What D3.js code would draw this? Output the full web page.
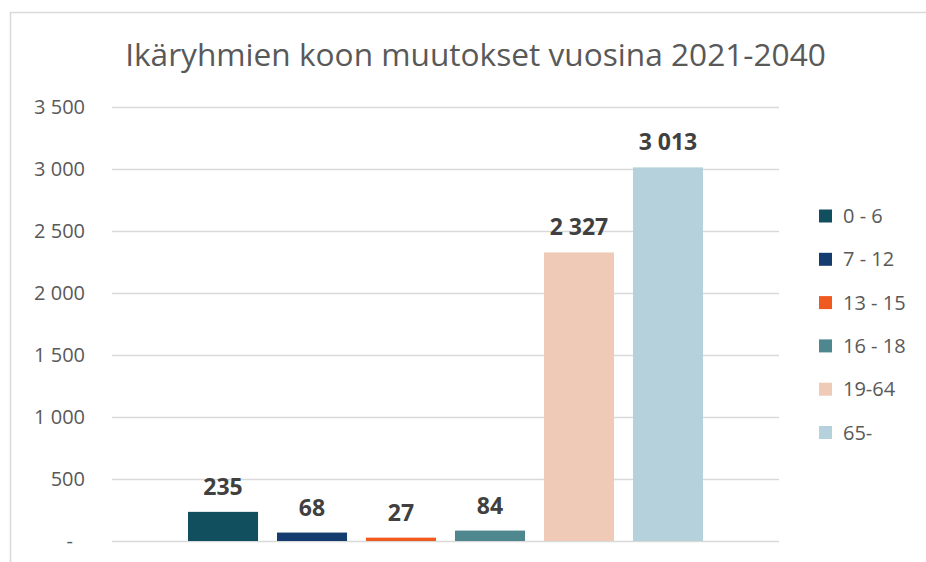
<!DOCTYPE html>
<html><head><meta charset="utf-8">
<script src="https://cdn.jsdelivr.net/npm/d3@7"></script>
<style>html,body{margin:0;padding:0;background:#fff;}svg{display:block;}</style>
</head><body>
<script>
const categories = ["0 - 6", "7 - 12", "13 - 15", "16 - 18", "19-64", "65-"];
const values = [235, 68, 27, 84, 2327, 3013];
const colors = ["#124f5e", "#153c6e", "#f05a1e", "#4f878e", "#efcbb7", "#b5d2dc"];
const yTicks = [0, 500, 1000, 1500, 2000, 2500, 3000, 3500];
const title = "Ikäryhmien koon muutokset vuosina 2021-2040";

const W = 926, H = 562;
const plot = {left: 112, right: 779, top: 107, bottom: 541};
const fmt = v => v === 0 ? "-" : d3.format(",")(v).replace(/,/g, " ");

const svg = d3.select("body").append("svg").attr("width", W).attr("height", H);
svg.append("rect").attr("width", W).attr("height", H).attr("fill", "#fff");

// outer border (chart frame partly cropped)
svg.append("path").attr("d", `M10.5,${H+2}V12.5H${W+2}`).attr("fill", "none")
  .attr("stroke", "#d9d9d9").attr("stroke-width", 1.5);

// title
const t = svg.append("text").attr("x", 475.5).attr("y", 66).attr("text-anchor", "middle")
  .attr("font-family", "'Open Sans', sans-serif").attr("font-size", 30).attr("fill", "#595959")
  .text(title);
const tw = t.node().getComputedTextLength();
t.attr("font-size", 30 * 701 / tw);

const y = d3.scaleLinear().domain([0, 3500]).range([plot.bottom, plot.top]);
const x = d3.scaleBand().domain(categories).range([plot.left, plot.right])
  .paddingInner(0.213).paddingOuter(0.854);

// gridlines + y labels
const ax = svg.append("g").attr("transform", `translate(${plot.left},0)`)
  .call(d3.axisLeft(y).tickValues(yTicks).tickFormat(fmt)
    .tickSize(-(plot.right - plot.left)).tickPadding(27));
ax.select(".domain").remove();
ax.selectAll(".tick line").attr("stroke", "#d9d9d9").attr("stroke-width", 1.5);
ax.selectAll(".tick text").attr("font-family", "'Open Sans', sans-serif")
  .attr("font-size", 20).attr("fill", "#595959")
  .attr("dx", d => d === 0 ? -12 : 0);

// bars
svg.append("g").selectAll("rect").data(values).join("rect")
  .attr("x", (d, i) => x(categories[i]))
  .attr("width", x.bandwidth())
  .attr("y", d => y(d))
  .attr("height", d => y(0) - y(d))
  .attr("fill", (d, i) => colors[i]);

// data labels
svg.append("g").selectAll("text").data(values).join("text")
  .attr("x", (d, i) => x(categories[i]) + x.bandwidth() / 2)
  .attr("y", d => y(d) - 17)
  .attr("text-anchor", "middle")
  .attr("font-family", "'Open Sans', sans-serif").attr("font-weight", "bold")
  .attr("font-size", 23).attr("fill", "#404040")
  .text(d => fmt(d));

// legend
const lg = svg.append("g").selectAll("g").data(categories).join("g")
  .attr("transform", (d, i) => `translate(819,${216 + i * 43.3})`);
lg.append("rect").attr("x", 0).attr("y", -6.5).attr("width", 13).attr("height", 13)
  .attr("fill", (d, i) => colors[i]);
lg.append("text").attr("x", 24).attr("y", 0).attr("dy", "0.35em")
  .attr("font-family", "'Open Sans', sans-serif").attr("font-size", 20).attr("fill", "#595959")
  .text(d => d);
</script>
</body></html>
